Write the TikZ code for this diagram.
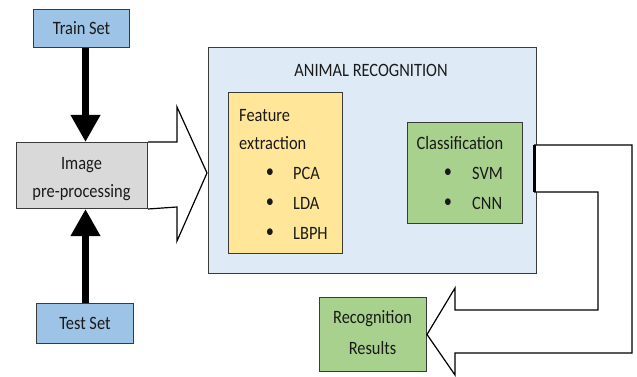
\documentclass[tikz,border=0pt]{standalone}
\usepackage{fontspec}
\setmainfont{Carlito}
\usetikzlibrary{arrows.meta}
\definecolor{setblue}{HTML}{9DC3E6}
\definecolor{pregray}{HTML}{D9D9D9}
\definecolor{panelblue}{HTML}{DEEBF7}
\definecolor{featyellow}{HTML}{FFE699}
\definecolor{clsgreen}{HTML}{A9D18E}
\definecolor{edgec}{HTML}{3A3A3A}
\definecolor{textc}{HTML}{1A1A1A}
\tikzset{
  box/.style={draw=edgec, line width=1pt, rectangle, anchor=north west, inner sep=0pt},
  txt/.style={font=\fontsize{16.4}{19}\selectfont, text=textc, inner sep=0pt},
  thickarrow/.style={line width=7pt, -{Triangle[length=27pt,width=28pt]}},
  blockarrow/.style={draw=black, line width=1.2pt, fill=white, line join=miter},
}
\newcommand{\vtx}[1]{\scalebox{1}[1.15]{#1}}
\begin{document}
\begin{tikzpicture}[x=1pt,y=-1pt]
\useasboundingbox (0,0) rectangle (637,377);
% boxes
\node[box, fill=setblue, minimum width=96pt, minimum height=38pt] (train) at (33,9) {};
\node[box, fill=pregray, minimum width=131pt, minimum height=66pt] (pre) at (16,142) {};
\node[box, fill=setblue, minimum width=97pt, minimum height=40pt] (test) at (36,303) {};
\node[box, fill=panelblue, minimum width=328pt, minimum height=226pt] (animal) at (208,47) {};
\node[box, fill=featyellow, minimum width=114pt, minimum height=161pt] (feat) at (228,92) {};
\node[box, fill=clsgreen, minimum width=115pt, minimum height=101pt] (cls) at (407,122) {};
\node[box, fill=clsgreen, minimum width=107pt, minimum height=74pt] (res) at (319,297) {};
% texts
\node[txt] (ttrain) at (train.center) {\vtx{Train Set}};
\node[txt] (ttest) at (test.center) {\vtx{Test Set}};
\node[txt] (tpre1) at (81.5,165) {\vtx{Image}};
\node[txt] (tpre2) at (81.5,193) {\vtx{pre-processing}};
\node[txt] (tanimal) at (371,70) {\vtx{ANIMAL RECOGNITION}};
\node[txt, anchor=west] (tfeat1) at (239,116) {\vtx{Feature}};
\node[txt, anchor=west] (tfeat2) at (239,143) {\vtx{extraction}};
\node[txt] (b1) at (270,173) {\vtx{•}};
\node[txt] (b2) at (270,203) {\vtx{•}};
\node[txt] (b3) at (270,233) {\vtx{•}};
\node[txt, anchor=west] (pca) at (293,173) {\vtx{PCA}};
\node[txt, anchor=west] (lda) at (293,203) {\vtx{LDA}};
\node[txt, anchor=west] (lbph) at (293,233) {\vtx{LBPH}};
\node[txt] (tcls) at (460,143) {\vtx{Classification}};
\node[txt] (b4) at (448,173) {\vtx{•}};
\node[txt] (b5) at (448,203) {\vtx{•}};
\node[txt, anchor=west] (svm) at (472,173) {\vtx{SVM}};
\node[txt, anchor=west] (cnn) at (472,203) {\vtx{CNN}};
\node[txt] (tres1) at (372.5,319) {\vtx{Recognition}};
\node[txt] (tres2) at (372.5,348) {\vtx{Results}};
% thick arrows
\draw[thickarrow] ([xshift=4pt]train.south) -- ([xshift=3.5pt]pre.north);
\draw[thickarrow] ([xshift=0.5pt]test.north) -- ([xshift=3.5pt]pre.south);
% block arrow to recognition panel
\coordinate (tipA) at (207,173);
\draw[blockarrow] (pre.north east) -- (177,142) -- (177,107) -- (tipA) -- (177,241) -- (177,207) -- (pre.south east);
% return block arrow
\coordinate (retA) at (534,145);
\coordinate (retB) at (534,192);
\draw[blockarrow] (retA) -- (632,145) -- (632,353) -- (455,353) -- (455,375) -- (res.east) -- (455,288) -- (455,310) -- (598,310) -- (598,192) -- (retB);
\draw[line width=3pt] (retA) -- (retB);
\end{tikzpicture}
\end{document}
